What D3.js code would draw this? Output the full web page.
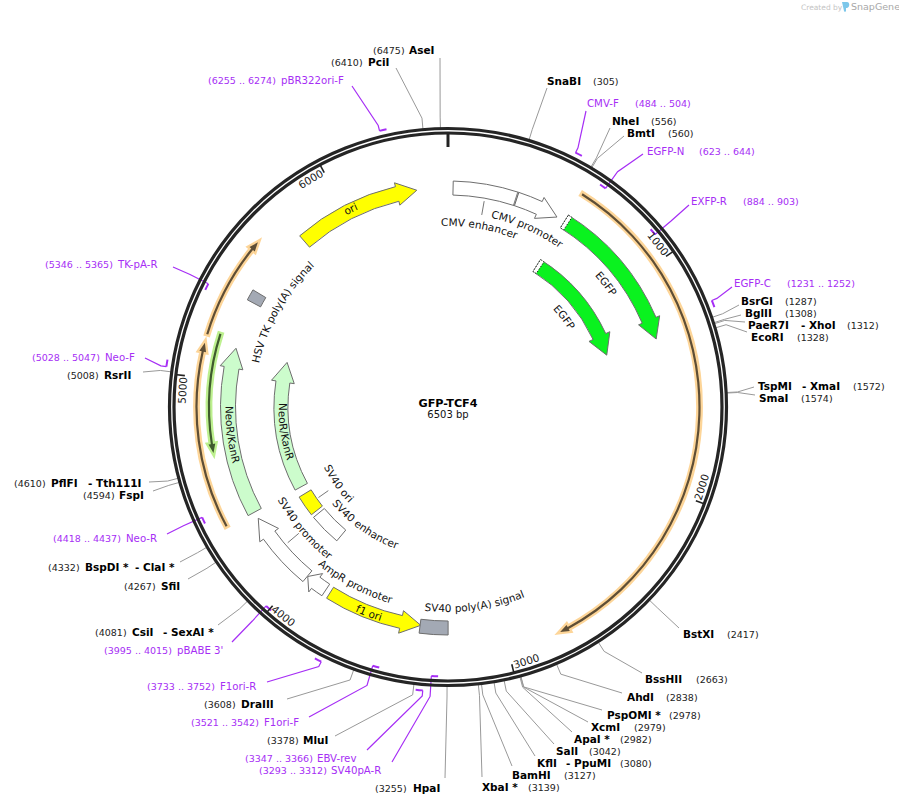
<!DOCTYPE html>
<html><head><meta charset="utf-8">
<script src="https://cdn.jsdelivr.net/npm/d3@7/dist/d3.min.js"></script>
<style>html,body{margin:0;padding:0;background:#fff}svg{display:block}text{font-family:"DejaVu Sans",sans-serif}</style>
</head><body><svg id="map" width="899" height="805"></svg>
<script>
// ---------- DATA ----------
const plasmidName = "GFP-TCF4";
const plasmidLength = 6503;
const tickValues = [0, 1000, 2000, 3000, 4000, 5000, 6000];

const featureNames = ["CMV enhancer","CMV promoter","EGFP","EGFP","ori","HSV TK poly(A) signal","NeoR/KanR","NeoR/KanR","SV40 ori","SV40 enhancer","SV40 promoter","AmpR promoter","f1 ori","SV40 poly(A) signal"];
const featureStarts = [24, 330, 580, 580, 5764, 5385, 4362, 4362, 4186, 3969, 3969, 3861, 3837, 3251];
const featureEnds   = [330, 539, 1299, 1299, 6355, 5437, 5157, 5157, 4314, 4166, 4328, 3967, 3380, 3383];
const featureKinds  = ["promoter","promoter","gfp","gfp","origin","polyA","marker","marker","origin","promoter","promoter","promoter","origin","polyA"];
const featureArrows = [false, true, true, true, true, false, true, true, false, false, true, true, true, false];

const orfStarts = [582, 4366, 5181, 5199];
const orfEnds   = [2773, 5145, 5616, 4677];
const orfKinds  = ["orange","orange","orange","lime"];

const siteNames = ["AseI","PciI","SnaBI","NheI","BmtI","BsrGI","BglII","PaeR7I","EcoRI","TspMI","SmaI","BstXI","BssHII","AhdI","PspOMI *","XcmI","ApaI *","SalI","KflI","BamHI","XbaI *","HpaI","MluI","DraIII","CsiI","SfiI","BspDI *","FspI","PflFI","RsrII"];
const sitePositions = [6475,6410,305,556,560,1287,1308,1312,1328,1572,1574,2417,2663,2838,2978,2979,2982,3042,3080,3127,3139,3255,3378,3608,4081,4267,4332,4594,4610,5008];
const siteCompanions = {"PaeR7I":"- XhoI","TspMI":"- XmaI","KflI":"- PpuMI","CsiI":"- SexAI *","BspDI *":"- ClaI *","PflFI":"- Tth111I"};

const primerNames = ["pBR322ori-F","CMV-F","EGFP-N","EXFP-R","EGFP-C","TK-pA-R","Neo-F","Neo-R","pBABE 3'","F1ori-R","F1ori-F","EBV-rev","SV40pA-R"];
const primerStarts = [6255,484,623,884,1231,5346,5028,4418,3995,3733,3521,3347,3293];
const primerEnds   = [6274,504,644,903,1252,5365,5047,4437,4015,3752,3542,3366,3312];
const primerStrand = ["out","out","in","in","out","in","out","in","in","out","in","out","in"];

// ---------- LAYOUT ----------
const W = 899, H = 805, cx = 448, cy = 407;
const featureRadius = [219,219,219,167,219,220,220,167,167,167,220,220,220,221];
const featureHalf   = [7,7,7.5,7,7.5,7.5,7.5,7,7,7,7,7,6.5,7];
// label: bp angle mid, baseline radius, sweep (cw = tops outward)
const featureLabel = [
 [179,181,"cw"],[432,194,"cw"],[940,197,"cw"],[945,143.5,"cw"],[6030,217,"cw"],[5415,194,"cw"],
 [4746,222.5,"ccw"],[4722,169.5,"ccw"],[4246,138,"ccw"],[3886,151,"ccw"],[4150,194,"ccw"],[3755,204.5,"ccw"],[3630,224.5,"ccw"],[3112,205,"ccw"]];
const featureLeaders = [[180,209,195],[4150,195.5,210],[4246,146,158]];
const divider = [[325,212,226]];
const siteLayout = {
 "AseI":[409,373,54,440,58],"PciI":[368,331,66,396,68],"SnaBI":[547,593,85,547,88],"NheI":[612,651,125,610,128],"BmtI":[627,668,137,624,136],
 "BsrGI":[741,785,305,739,305],"BglII":[745,785,317,741,315],"PaeR7I":[748,847,329,745,322,801],"EcoRI":[751,797,341,747,332],
 "TspMI":[758,853,390,754,387,802],"SmaI":[759,801,402,755,395],"BstXI":[683,727,638,679,628],"BssHII":[645,696,683,642,673],"AhdI":[627,666,701,622,693],
 "PspOMI *":[607,669,719,602,710],"XcmI":[591,634,731,588,722],"ApaI *":[574,620,743,572,732],"SalI":[556,589,755,554,744],"KflI":[537,620,767,535,756,566],
 "BamHI":[512,564,779,512,766],"XbaI *":[482,528,791,482,777],"HpaI":[413,375,792,445,778],"MluI":[303,267,744,335,736],"DraIII":[241,204,708,287,699],
 "CsiI":[132,95,636,218,625,163],"SfiI":[161,124,590,188,579],"BspDI *":[85,48,571,180,562,135],"FspI":[119,83,499,153,491],"PflFI":[51,14,487,149,482,88],"RsrII":[104,67,379,143,372]};
const primerLayout = {
 "pBR322ori-F":[281,208,84,352,86],"CMV-F":[587,635,107,586,111],"EGFP-N":[647,699,155,643,154],"EXFP-R":[691,743,205,689,205],"EGFP-C":[734,787,287,732,287],
 "TK-pA-R":[118,45,268,173,267],"Neo-F":[105,32,361,145,358],"Neo-R":[126,53,542,167,534],"pBABE 3'":[177,104,654,232,642],"F1ori-R":[220,147,690,267,682],
 "F1ori-F":[264,191,726,309,717],"EBV-rev":[317,245,762,367,750],"SV40pA-R":[331,259,774,392,762]};
const kindFill = {promoter:"#ffffff",gfp:"#0af21f",origin:"#ffff00",polyA:"#a3a9b4",marker:"#ccfccc"};
const orfGlow = {orange:"#fdd598",lime:"#bdf08f"}, orfCore = {orange:"#5e4e36",lime:"#3f5a2e"};
const purple = "#a62ef5";

// ---------- DRAW ----------
const svg = d3.select("#map");
const theta = d3.scaleLinear().domain([0, plasmidLength]).range([0, 2 * Math.PI]);
const pt = (bp, r) => [cx + r * Math.sin(theta(bp)), cy - r * Math.cos(theta(bp))];
const ang = bp => theta(bp) - Math.PI / 2;
const polyline = d3.line();

function arrowPath(tail, tip, r, hw, headHw, headLen) {
  const cw = tip > tail, p = d3.path(), arcLen = Math.abs(theta(tip) - theta(tail)) * r;
  const hl = Math.min(headLen, arcLen * 0.45);
  const base = tip + (cw ? -1 : 1) * (hl / r) / (2 * Math.PI) * plasmidLength;
  const aT = ang(tail), aB = ang(base);
  p.arc(cx, cy, r + hw, aT, aB, !cw);
  let q = pt(base, r + headHw); p.lineTo(q[0], q[1]);
  q = pt(tip, r); p.lineTo(q[0], q[1]);
  q = pt(base, r - headHw); p.lineTo(q[0], q[1]);
  p.arc(cx, cy, r - hw, aB, aT, cw);
  p.closePath();
  return p.toString();
}
function blockPath(a, b, r, hw) {
  const p = d3.path();
  p.arc(cx, cy, r + hw, ang(a), ang(b), false);
  p.arc(cx, cy, r - hw, ang(b), ang(a), true);
  p.closePath();
  return p.toString();
}

// ORF-like arcs with glow
const orfG = svg.append("g");
orfStarts.forEach((s, i) => {
  const e = orfEnds[i], k = orfKinds[i], r = i === 3 ? 239 : 251.5;
  orfG.append("path").attr("d", arrowPath(s, e, r, 1.1, 3.4, 9)).attr("fill", orfGlow[k]).attr("stroke", orfGlow[k]).attr("stroke-width", 4.6).attr("stroke-linejoin", "miter");
  orfG.append("path").attr("d", arrowPath(s, e, r, 1.1, 3.4, 9)).attr("fill", orfCore[k]).attr("stroke", "none");
});

// features
const fG = svg.append("g");
featureNames.forEach((name, i) => {
  const s = featureStarts[i], e = featureEnds[i], r = featureRadius[i], h = featureHalf[i];
  const d = featureArrows[i] ? arrowPath(s, e, r, h, 11.5, 20) : blockPath(Math.min(s, e), Math.max(s, e), r, h);
  fG.append("path").attr("d", d).attr("fill", kindFill[featureKinds[i]]).attr("stroke", "#6e6e6e").attr("stroke-width", 1);
  if (featureKinds[i] === "gfp") {
    const cap = (4 / r) / (2 * Math.PI) * plasmidLength;
    fG.append("path").attr("d", blockPath(s, s + cap, r, h)).attr("fill", "#fff").attr("stroke", "#222").attr("stroke-width", 1).attr("stroke-dasharray", "1.5 1.5");
  }
  const [mid, br, sw] = featureLabel[i];
  const span = Math.PI / 2.6, a0 = theta(mid), id = "lab" + i, p = d3.path();
  if (sw === "cw") p.arc(cx, cy, br, a0 - Math.PI / 2 - span, a0 - Math.PI / 2 + span, false);
  else p.arc(cx, cy, br, a0 - Math.PI / 2 + span, a0 - Math.PI / 2 - span, true);
  svg.append("path").attr("id", id).attr("d", p.toString()).attr("fill", "none");
  svg.append("text").attr("font-size", 10.5).attr("fill", "#111").attr("text-anchor", "middle")
    .append("textPath").attr("href", "#" + id).attr("startOffset", "50%").text(name);
});
featureLeaders.concat(divider).forEach(([bp, r0, r1]) => {
  svg.append("path").attr("d", polyline([pt(bp, r0), pt(bp, r1)])).attr("stroke", "#777").attr("stroke-width", 1).attr("fill", "none");
});

// leaders
const elbowR = 290;
siteNames.forEach((name, i) => {
  const l = siteLayout[name], bp = sitePositions[i];
  svg.append("path").attr("d", polyline([pt(bp, 279), pt(bp, elbowR), [l[3], l[4]]])).attr("fill", "none").attr("stroke", "#999").attr("stroke-width", 1);
});
primerNames.forEach((name, i) => {
  const l = primerLayout[name], out = primerStrand[i] === "out", r = out ? 284.5 : 269.5;
  const mid = (primerStarts[i] + primerEnds[i]) / 2, a = mid - 13, b = mid + 13, at = out ? a : b;
  svg.append("path").attr("d", polyline([pt(at, r), pt(at, elbowR), [l[3], l[4]]])).attr("fill", "none").attr("stroke", purple).attr("stroke-width", 1.2);
  const p = d3.path();
  p.arc(cx, cy, r, ang(a), ang(b), false);
  svg.append("path").attr("d", p.toString()).attr("fill", "none").attr("stroke", purple).attr("stroke-width", 2);
});

// backbone
[278.5, 274].forEach(r => svg.append("circle").attr("cx", cx).attr("cy", cy).attr("r", r).attr("fill", "none").attr("stroke", "#252525").attr("stroke-width", 3.2));

// ticks
tickValues.forEach(t => {
  const big = t === 0;
  svg.append("path").attr("d", polyline([pt(t, 273), pt(t, big ? 260 : 265)])).attr("stroke", "#222").attr("stroke-width", big ? 3 : 1.6);
  if (big) return;
  const [tx, ty] = pt(t - 58, 266), deg = theta(t - 58) * 180 / Math.PI;
  const rot = t > 1625 && t < 4875 ? deg - 180 : (deg > 180 ? deg - 360 : deg);
  svg.append("text").attr("transform", `translate(${tx},${ty}) rotate(${rot})`).attr("text-anchor", "middle").attr("dy", "0.36em").attr("font-size", 10.5).attr("fill", "#222").text(t);
});

// label text
const bold = (x, y, s) => svg.append("text").attr("x", x).attr("y", y).attr("font-size", 10.5).attr("font-weight", "bold").attr("fill", "#000").text(s);
const small = (x, y, s, c) => svg.append("text").attr("x", x).attr("y", y).attr("font-size", 9.5).attr("fill", c || "#222").text(s);
siteNames.forEach((name, i) => {
  const l = siteLayout[name];
  bold(l[0], l[2], name);
  if (siteCompanions[name]) bold(l[5], l[2], siteCompanions[name]);
  small(l[1], l[2], `(${sitePositions[i]})`);
});
primerNames.forEach((name, i) => {
  const l = primerLayout[name];
  svg.append("text").attr("x", l[0]).attr("y", l[2]).attr("font-size", 10.2).attr("fill", purple).text(name);
  small(l[1], l[2], `(${primerStarts[i]} .. ${primerEnds[i]})`, purple);
});

// centre title
svg.append("text").attr("x", cx).attr("y", 407).attr("text-anchor", "middle").attr("font-size", 11.2).attr("font-weight", "bold").attr("fill", "#000").text(plasmidName);
svg.append("text").attr("x", cx).attr("y", 418).attr("text-anchor", "middle").attr("font-size", 10).attr("fill", "#111").text(plasmidLength + " bp");

// credit
svg.append("text").attr("x", 801).attr("y", 10).attr("font-size", 7.5).attr("fill", "#c4c4c4").text("Created by");
svg.append("path").attr("d", "M842 2h5c3 0 3 5 0 6h-1v3c0 1-2 1-2 0l-2-9z").attr("fill", "#7cc7ea");
svg.append("text").attr("x", 851).attr("y", 10).attr("font-size", 9.5).attr("font-family", "Roboto").attr("fill", "#a8a8a8").text("SnapGene");
</script></body></html>
